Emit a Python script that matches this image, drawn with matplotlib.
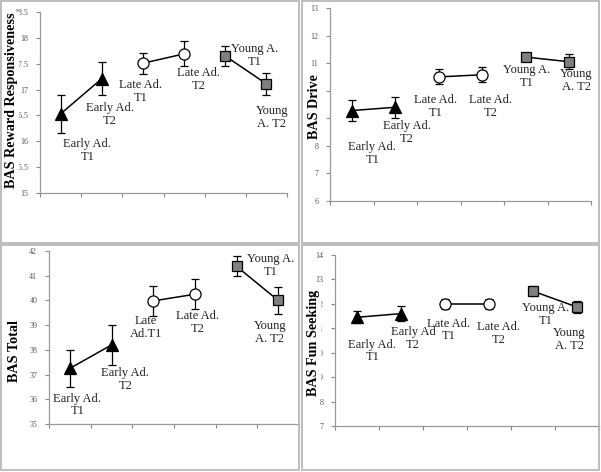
import matplotlib
matplotlib.use('Agg')
import matplotlib.pyplot as plt
from matplotlib.patches import Rectangle

plt.rcParams['font.family'] = ['Liberation Serif', 'DejaVu Serif']

W, H = 601, 472

groups = ['Early Ad.', 'Late Ad.', 'Young A.']

# panel data: means and error half-widths for the six time points
reward_mean = [16.53, 17.21, 17.51, 17.69, 17.65, 17.11]
reward_err = [0.37, 0.32, 0.20, 0.24, 0.20, 0.21]

drive_mean = [9.28, 9.40, 10.50, 10.58, 11.22, 11.05]
drive_err = [0.38, 0.38, 0.27, 0.27, 0.08, 0.28]

total_mean = [37.25, 38.20, 39.98, 40.25, 41.38, 40.00]
total_err = [0.75, 0.80, 0.60, 0.60, 0.40, 0.55]

fun_mean = [11.45, 11.60, 12.00, 12.00, 12.52, 11.87]
fun_err = [0.25, 0.30, 0.20, 0.20, 0.20, 0.25]

# annotation texts and where they sit (category index, value)
reward_labels = [('Early Ad.\nT1', 0.65, 15.83), ('Early Ad.\nT2', 1.2, 16.51),
                 ('Late Ad.\nT1', 1.94, 16.96), ('Late Ad.\nT2', 3.36, 17.2),
                 ('Young A.\nT1', 4.71, 17.66), ('Young\nA. T2', 5.13, 16.46)]
drive_labels = [('Early Ad.\nT1', 0.47, 7.71), ('Early Ad.\nT2', 1.26, 8.47),
                ('Late Ad.\nT1', 1.93, 9.44), ('Late Ad.\nT2', 3.19, 9.44),
                ('Young A.\nT1', 4.03, 10.51), ('Young\nA. T2', 5.16, 10.38)]
total_labels = [('Early Ad.\nT1', 0.18, 35.77), ('Early Ad.\nT2', 1.33, 36.8),
                ('Late\nAd.T1', 1.83, 38.89), ('Late Ad.\nT2', 3.07, 39.09),
                ('Young A.\nT1', 4.83, 41.43), ('Young\nA. T2', 4.8, 38.69)]
fun_labels = [('Early Ad.\nT1', 0.35, 10.07), ('Early Ad\nT2', 1.27, 10.58),
              ('Late Ad.\nT1', 2.08, 10.93), ('Late Ad.\nT2', 3.21, 10.78),
              ('Young A.\nT1', 4.29, 11.58), ('Young\nA. T2', 4.82, 10.54)]


def px_axes(fig, left, right, top, bottom):
    return fig.add_axes([left / W, 1 - bottom / H, (right - left) / W, (bottom - top) / H])


def draw_panel(fig, box, rect, ylim, yticks, means, errs, labels, ylabel, ylab_xy):
    bx0, by0, bx1, by1 = box
    fig.patches.append(Rectangle((bx0 / W, 1 - by1 / H), (bx1 - bx0) / W, (by1 - by0) / H,
                                 transform=fig.transFigure, fill=False,
                                 edgecolor='#b8b8b8', lw=1.3, zorder=0))
    ax = px_axes(fig, *rect)
    ax.patch.set_alpha(0)
    styles = [dict(marker='^', mfc='black', mec='black', ms=8.5),
              dict(marker='o', mfc='white', mec='black', ms=8),
              dict(marker='s', mfc='#808080', mec='black', ms=7.5)]
    for g in range(3):
        xs = [2 * g, 2 * g + 1]
        ys = means[2 * g:2 * g + 2]
        es = errs[2 * g:2 * g + 2]
        ax.errorbar(xs, ys, yerr=es, fmt='none', ecolor='black', elinewidth=0.9,
                    capsize=3.2, capthick=0.9, zorder=2)
        ax.plot(xs, ys, color='black', lw=1.1, mew=0.9, zorder=3, **styles[g])
    for txt, x, y in labels:
        ax.text(x, y, txt, ha='center', va='center', fontsize=9, linespacing=1.1,
                color='#222222', zorder=4)
    ax.set_xlim(-0.5, 5.5)
    ax.set_ylim(*ylim)
    ax.set_xticks([i - 0.5 for i in range(7)])
    ax.set_xticklabels([])
    ax.set_yticks(yticks)
    ax.set_yticklabels(['%g' % v for v in yticks])
    ax.tick_params(axis='both', direction='out', length=3, width=0.8, color='#888888',
                   labelsize=5.8, labelcolor='#555555', pad=5.5)
    for s in ['top', 'right']:
        ax.spines[s].set_visible(False)
    for s in ['left', 'bottom']:
        ax.spines[s].set_color('#999999')
        ax.spines[s].set_linewidth(0.9)
    fig.text(ylab_xy[0] / W, 1 - ylab_xy[1] / H, ylabel, rotation=90, ha='center',
             va='center', fontsize=10.2, fontweight='bold', zorder=5,
             bbox=dict(facecolor='white', edgecolor='none', pad=0.3))
    return ax


def main():
    fig = plt.figure(figsize=(W / 100, H / 100), dpi=100)
    fig.patch.set_facecolor('white')

    draw_panel(fig, (1, 1, 299, 243), (40, 287, 12, 193), (15, 18.5),
               [15 + 0.5 * i for i in range(8)],
               reward_mean, reward_err, reward_labels,
               'BAS Reward Responsiveness', (12, 100))
    draw_panel(fig, (302, 1, 599, 243), (330, 591, 8, 201), (6, 13),
               list(range(6, 14)),
               drive_mean, drive_err, drive_labels,
               'BAS Drive', (314, 107))
    draw_panel(fig, (1, 245, 299, 470), (49, 299, 251, 424), (35, 42),
               list(range(35, 43)),
               total_mean, total_err, total_labels,
               'BAS Total', (14, 351))
    draw_panel(fig, (302, 245, 599, 470), (335, 599, 255, 426), (7, 14),
               list(range(7, 15)),
               fun_mean, fun_err, fun_labels,
               'BAS Fun Seeking', (314, 343))

    fig.savefig('out.png', dpi=100)


if __name__ == "__main__":
    main()
